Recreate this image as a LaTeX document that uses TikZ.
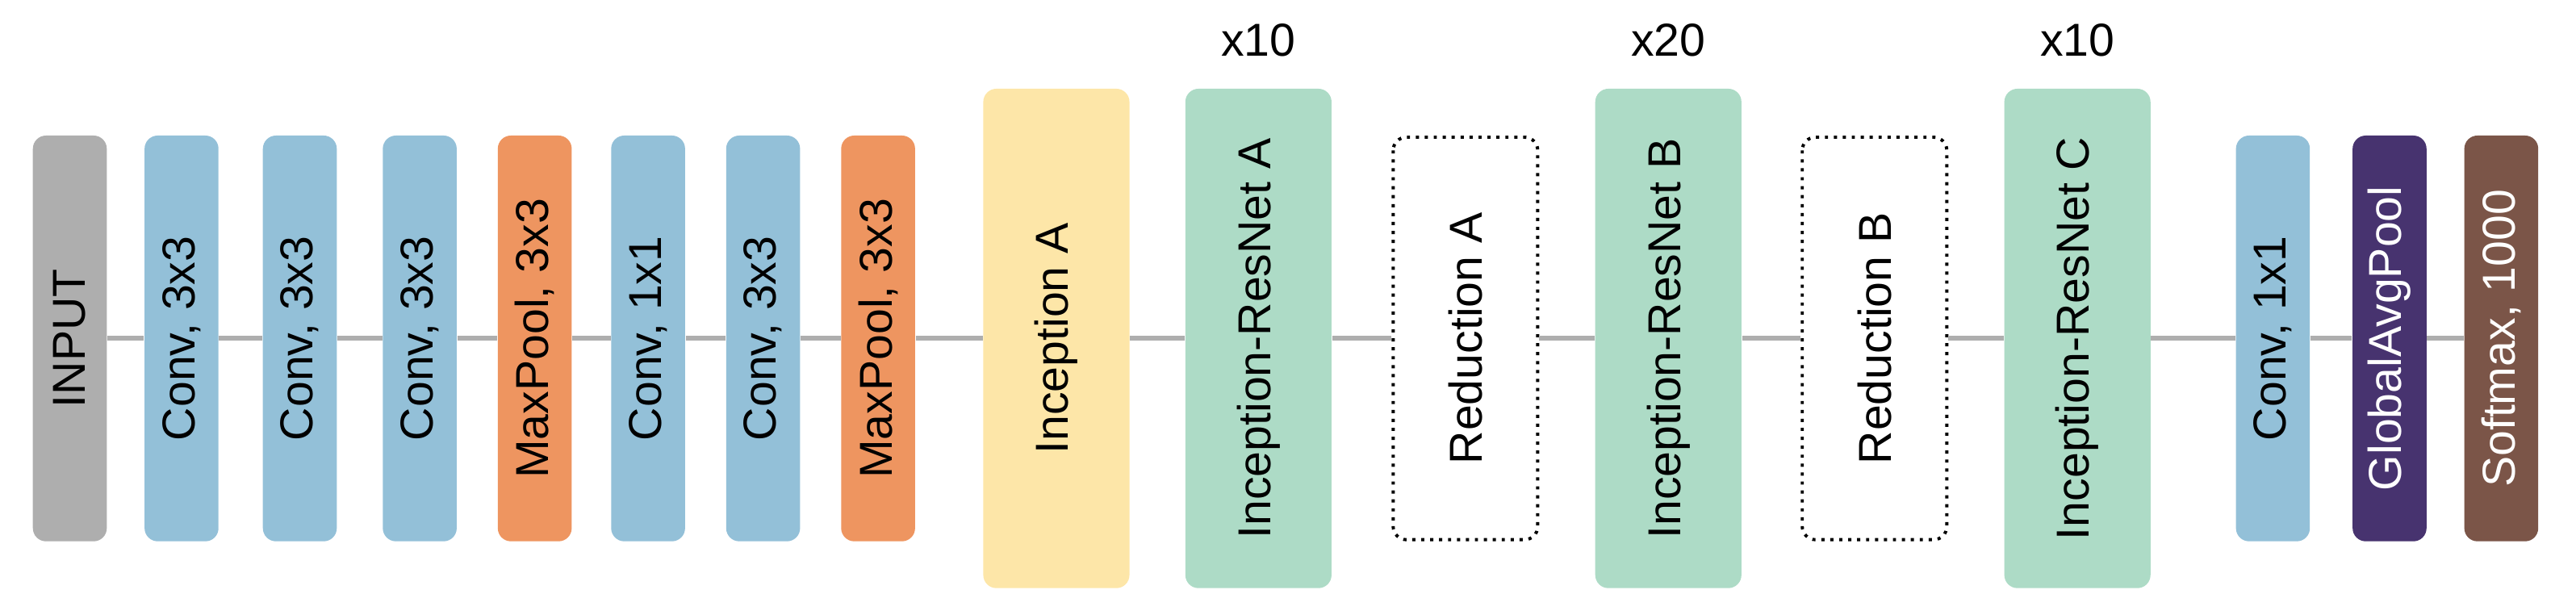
\documentclass[tikz,border=0pt]{standalone}
\usepackage{fontspec}
\setmainfont{Liberation Sans}
\usetikzlibrary{positioning}
\definecolor{cinput}{HTML}{AEAEAE}
\definecolor{cconv}{HTML}{93C0D8}
\definecolor{cpool}{HTML}{EE9560}
\definecolor{cincep}{HTML}{FDE6A8}
\definecolor{cres}{HTML}{ADDBC6}
\definecolor{cgap}{HTML}{47336F}
\definecolor{csoft}{HTML}{7B5548}
\tikzset{
  layer/.style={rotate=90, rounded corners=0.16cm, minimum width=4.94cm, minimum height=0.9cm,
    inner sep=0pt, font=\fontsize{16}{16}\selectfont},
  big/.style={layer, minimum width=6.08cm, minimum height=1.78cm},
  red/.style={layer, minimum width=4.9cm, minimum height=1.76cm, draw, line width=1.1pt, dotted, fill=white},
  link/.style={line width=0.06cm, color=cinput}
}
\begin{document}
\begin{tikzpicture}[x=0.02cm,y=0.02cm]
  \useasboundingbox (0,0) rectangle (1568,374);
  %% stem
  \node[layer, fill=cinput] (in) at (42.5,168) {INPUT};
  \node[layer, fill=cconv] (c1) at (110.5,168) {Conv, 3x3};
  \node[layer, fill=cconv] (c2) at (182.5,168) {Conv, 3x3};
  \node[layer, fill=cconv] (c3) at (255.5,168) {Conv, 3x3};
  \node[layer, fill=cpool] (p1) at (325.5,168) {MaxPool, 3x3};
  \node[layer, fill=cconv] (c4) at (394.5,168) {Conv, 1x1};
  \node[layer, fill=cconv] (c5) at (464.5,168) {Conv, 3x3};
  \node[layer, fill=cpool] (p2) at (534.5,168) {MaxPool, 3x3};
  %% inception blocks
  \node[big, fill=cincep] (ia) at (643,168) {Inception A};
  \node[big, fill=cres] (ra) at (766,168) {Inception-ResNet A};
  \node[red] (da) at (892,168) {Reduction A};
  \node[big, fill=cres] (rb) at (1015.5,168) {Inception-ResNet B};
  \node[red] (db) at (1141,168) {Reduction B};
  \node[big, fill=cres] (rc) at (1264.5,168) {Inception-ResNet C};
  %% head
  \node[layer, fill=cconv] (c6) at (1383.5,168) {Conv, 1x1};
  \node[layer, fill=cgap, text=white] (gap) at (1454.5,168) {GlobalAvgPool};
  \node[layer, fill=csoft, text=white] (sm) at (1522.5,168) {Softmax, 1000};
  % repeats
  \node[font=\fontsize{16}{16}\selectfont, above=0.26cm of ra.east] (na) {x10};
  \node[font=\fontsize{16}{16}\selectfont, above=0.26cm of rb.east] (nb) {x20};
  \node[font=\fontsize{16}{16}\selectfont, above=0.26cm of rc.east] (nc) {x10};
  % links
  \foreach \a/\b in {in/c1,c1/c2,c2/c3,c3/p1,p1/c4,c4/c5,c5/p2,p2/ia,ia/ra,ra/da,da/rb,rb/db,db/rc,rc/c6,c6/gap,gap/sm}
    \draw[link] (\a.south) -- (\b.north);
\end{tikzpicture}
\end{document}
